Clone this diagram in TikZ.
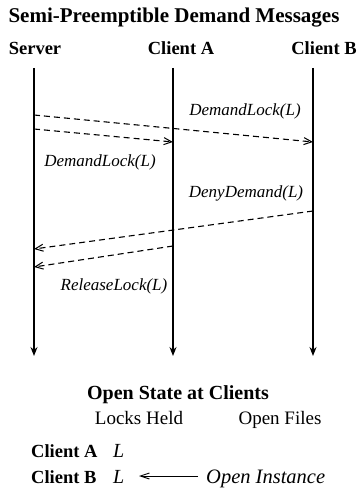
\documentclass[tikz,border=0pt]{standalone}
\usepackage{fontspec}
\setmainfont{Liberation Serif}
\usetikzlibrary{arrows.meta}

\begin{document}
\begin{tikzpicture}[x=1pt, y=-1pt,
  hdr/.style={font=\fontsize{18.5}{22}\selectfont\bfseries, anchor=base, inner sep=0pt},
  msglabel/.style={font=\fontsize{17}{20}\selectfont\itshape, anchor=base, inner sep=0pt},
  plain/.style={font=\fontsize{19}{22}\selectfont, anchor=base, inner sep=0pt},
  lifeline/.style={line width=1.3pt, -{Stealth[length=9pt, width=7pt, inset=3pt]}},
  msg/.style={line width=1.1pt, dash pattern=on 6pt off 4pt,
    -{Straight Barb[length=8pt, width=7pt, line width=1pt]}}
]
\useasboundingbox (0,0) rectangle (360,500);

% title and column heads
\node[hdr, font=\fontsize{21}{25}\selectfont\bfseries] (title) at (174,23) {Semi-Preemptible Demand Messages};
\node[hdr] (hs) at (35,55) {Server};
\node[hdr] (ha) at (181,55) {Client A};
\node[hdr] (hb) at (324,55) {Client B};

% lifelines
\coordinate (stop) at (34,68);   \coordinate (sbot) at (34,356);
\coordinate (atop) at (173,68);  \coordinate (abot) at (173,356);
\coordinate (btop) at (313,68);  \coordinate (bbot) at (313,356);
\draw[lifeline] (stop) -- (sbot);
\draw[lifeline] (atop) -- (abot);
\draw[lifeline] (btop) -- (bbot);

% message end points on the lifelines
\coordinate (s1) at (34,115);  \coordinate (b1) at (313,142);
\coordinate (s2) at (34,129);  \coordinate (a2) at (173,142);
\coordinate (b3) at (313,211); \coordinate (s3) at (34,249);
\coordinate (a4) at (173,246); \coordinate (s4) at (34,267);

\draw[msg] (s1) -- (b1);
\draw[msg] (s2) -- (a2);
\draw[msg] (b3) -- (s3);
\draw[msg] (a4) -- (s4);

\node[msglabel] (l1) at (245,116) {DemandLock(L)};
\node[msglabel] (l2) at (100,166) {DemandLock(L)};
\node[msglabel] (l3) at (246,197) {DenyDemand(L)};
\node[msglabel] (l4) at (114,290) {ReleaseLock(L)};

% open state table
\node[hdr, font=\fontsize{20}{24}\selectfont\bfseries] (state) at (178,399) {Open State at Clients};
\node[plain] (locks) at (139,424) {Locks Held};
\node[plain] (files) at (280,424) {Open Files};
\node[hdr, anchor=base west] (ca) at (31,457) {Client A};
\node[hdr, anchor=base west] (cb) at (31,483) {Client B};
\node[msglabel, anchor=base west, font=\fontsize{20}{24}\selectfont\itshape] (la) at (113,457) {L};
\node[msglabel, anchor=base west, font=\fontsize{20}{24}\selectfont\itshape] (lb) at (113,483) {L};
\node[msglabel, anchor=base west, font=\fontsize{20.5}{24}\selectfont\itshape] (inst) at (206,483) {Open Instance};
\coordinate (arrs) at (198,476);
\coordinate (arre) at (139,476);
\draw[line width=0.9pt, -{Straight Barb[length=9pt, width=6pt, line width=0.9pt]}] (arrs) -- (arre);
\end{tikzpicture}
\end{document}
